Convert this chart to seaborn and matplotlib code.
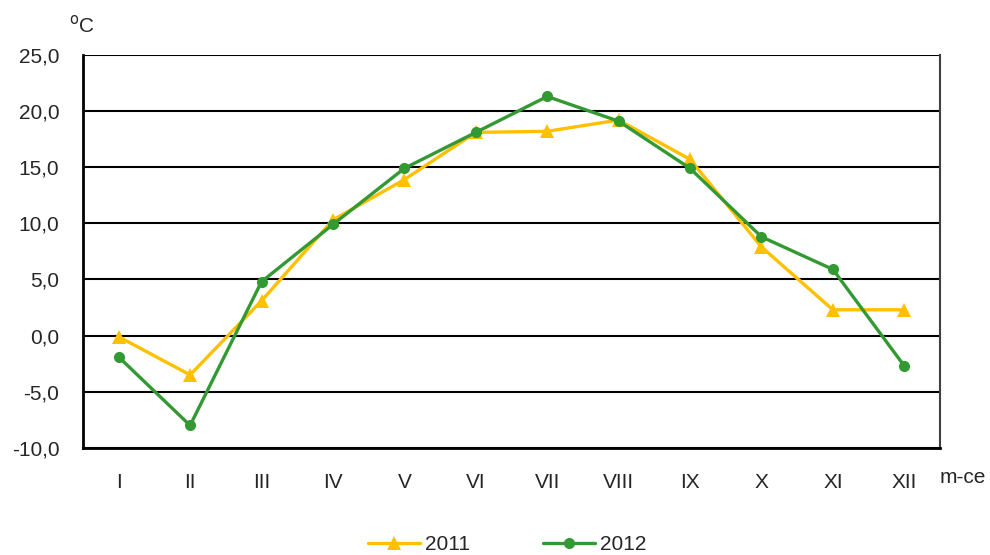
import matplotlib
matplotlib.use('Agg')
import matplotlib.pyplot as plt
import seaborn as sns
import numpy as np
import pandas as pd

months = ['I', 'II', 'III', 'IV', 'V', 'VI', 'VII', 'VIII', 'IX', 'X', 'XI', 'XII']
temp_2011 = [-0.1, -3.5, 3.1, 10.3, 13.9, 18.1, 18.2, 19.2, 15.7, 7.9, 2.3, 2.3]
temp_2012 = [-1.9, -8.0, 4.8, 9.9, 14.9, 18.1, 21.3, 19.1, 14.9, 8.8, 5.9, -2.7]
yticks = [-10, -5, 0, 5, 10, 15, 20, 25]

df = pd.DataFrame({
    'month': list(range(len(months))) * 2,
    'temp': temp_2011 + temp_2012,
    'year': ['2011'] * len(months) + ['2012'] * len(months),
})

sns.set_style('white')
plt.rcParams['font.family'] = ['Liberation Sans', 'DejaVu Sans']
fs = 15

fig = plt.figure(figsize=(9.9, 5.55), dpi=100)
ax = fig.add_axes([0.0838, 0.193, 0.8657, 0.708])

palette = {'2011': '#FFC000', '2012': '#339933'}
sns.lineplot(data=df, x='month', y='temp', hue='year', style='year',
             palette=palette, markers={'2011': '^', '2012': 'o'}, dashes=False,
             linewidth=2.4, markersize=8, markeredgewidth=0, ax=ax)
# triangles look a bit bigger than the dots
ax.lines[0].set_markersize(10)

ax.set_xlim(-0.5, len(months) - 0.5)
ax.set_ylim(-10, 25)
ax.set_yticks(yticks)
ax.set_yticklabels([f'{v:.1f}'.replace('.', ',') for v in yticks], fontsize=fs)
ax.set_xticks(range(len(months)))
ax.set_xticklabels(months, fontsize=fs)
ax.set_xticks(np.arange(-0.5, len(months)), minor=True)
ax.tick_params(axis='x', which='major', length=0, pad=18)
ax.tick_params(axis='x', which='minor', length=7, width=1.2, color='black', direction='out')
ax.tick_params(axis='y', length=6, width=1.2, color='black', direction='out', pad=11)
ax.set_xlabel('')
ax.set_ylabel('')

ax.yaxis.grid(True, color='black', linewidth=1.5)
ax.set_axisbelow(True)
for side in ['left', 'bottom']:
    ax.spines[side].set_color('black')
    ax.spines[side].set_linewidth(2)
ax.spines['top'].set_visible(False)
ax.spines['right'].set_color('#404040')
ax.spines['right'].set_linewidth(1.5)

fig.text(0.070, 0.955, '$^{\\rm o}$C', fontsize=fs, ha='left', va='center')
fig.text(0.949, 0.140, 'm-ce', fontsize=fs, ha='left', va='center')

handles, labels = ax.get_legend_handles_labels()
handles[0].set_markersize(10)
handles[1].set_markersize(8)
for h in handles:
    h.set_linewidth(2.4)
ax.legend(handles, labels, loc='center', bbox_to_anchor=(0.495, -0.246), ncol=2,
          frameon=False, fontsize=fs, handlelength=2.5, columnspacing=3.5,
          handletextpad=0.25)

fig.savefig('out.png', dpi=100)
